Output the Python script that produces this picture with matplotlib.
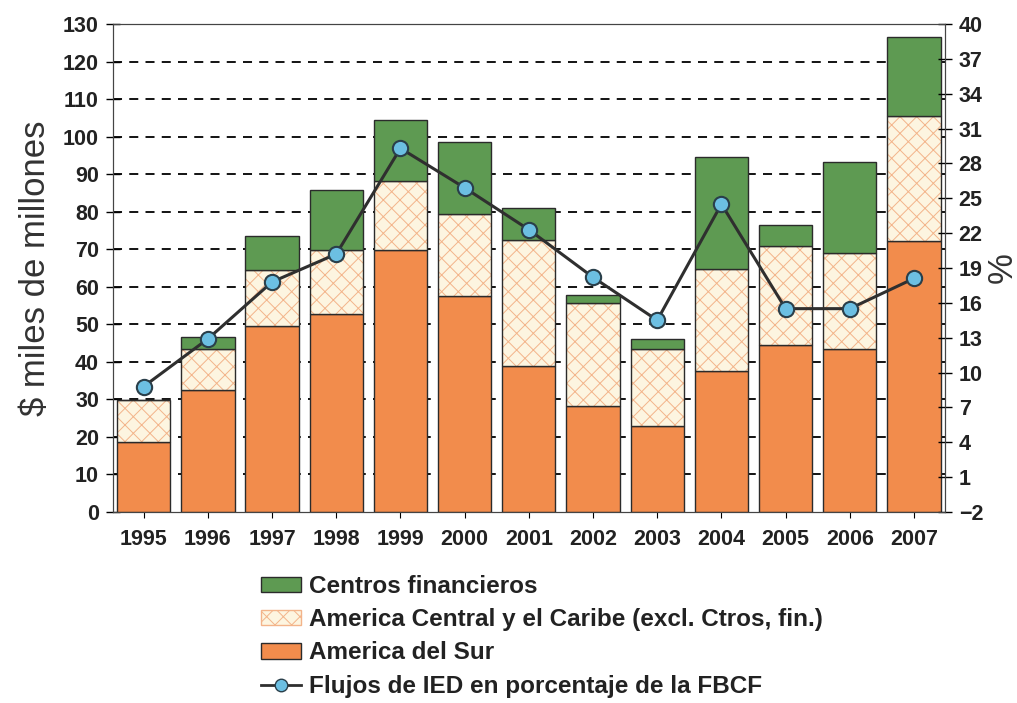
import numpy as np
import matplotlib.pyplot as plt
from matplotlib.lines import Line2D
from matplotlib.patches import Patch

plt.rcParams['font.family'] = ['Liberation Sans', 'DejaVu Sans']
plt.rcParams['hatch.linewidth'] = 0.7

years = ['1995', '1996', '1997', '1998', '1999', '2000', '2001',
         '2002', '2003', '2004', '2005', '2006', '2007']
sur = [18.6, 32.5, 49.5, 52.7, 69.8, 57.5, 38.9, 28.2, 22.9, 37.6, 44.5, 43.4, 72.2]
central = [11.2, 10.9, 15.0, 17.1, 18.4, 21.9, 33.6, 27.5, 20.5, 27.1, 26.4, 25.6, 33.3]
centros = [0.0, 3.2, 9.0, 16.0, 16.2, 19.2, 8.5, 2.1, 2.7, 29.9, 5.6, 24.2, 21.0]
pct = [8.8, 12.9, 17.8, 20.2, 29.3, 25.9, 22.3, 18.2, 14.5, 24.5, 15.5, 15.5, 18.1]

c_green = '#5e9a52'
c_cream = '#fdf5e0'
c_hatch = '#f3b48a'
c_orange = '#f28c4c'
c_edge = '#2b2b2b'

fig = plt.figure(figsize=(10.17, 7.03), dpi=100)
ax = fig.add_axes([0.111, 0.2717, 0.818, 0.6942])
ax2 = ax.twinx()

x = np.arange(len(years))
w = 0.83
sur = np.array(sur)
central = np.array(central)
centros = np.array(centros)

ax.bar(x, sur, w, color=c_orange, edgecolor=c_edge, linewidth=1.0, zorder=3)
ax.bar(x, central, w, bottom=sur, color=c_cream, edgecolor=c_hatch,
       hatch='xx', linewidth=0, zorder=3)
ax.bar(x, central, w, bottom=sur, color='none', edgecolor=c_edge, linewidth=1.0, zorder=3)
ax.bar(x, centros, w, bottom=sur + central, color=c_green, edgecolor=c_edge,
       linewidth=1.0, zorder=3)

ax.set_xlim(-0.48, len(years) - 0.52)
ax.set_ylim(0, 130)
ax.set_yticks(np.arange(0, 131, 10))
ax.set_xticks(x)
ax.set_xticklabels(years)
for yv in range(10, 130, 10):
    ax.axhline(yv, color='black', linestyle=(0, (5, 4)), linewidth=1.3, zorder=1)

ax2.plot(x, pct, color='#2f2f2f', linewidth=2.2, marker='o', markersize=11,
         markerfacecolor='#6cbfe2', markeredgecolor='#2a3f4a', markeredgewidth=1.5, zorder=5)
ax2.set_ylim(-2, 40)
ax2.set_yticks(np.arange(-2, 41, 3))

for a in (ax, ax2):
    a.tick_params(axis='y', direction='inout', length=10, width=1, labelsize=15.5, pad=5)
    for lbl in a.get_yticklabels():
        lbl.set_fontweight('bold')
        lbl.set_color('#222222')
    for s in a.spines.values():
        s.set_color('#444444')
ax.tick_params(axis='x', direction='inout', length=8, labelsize=15.5, pad=8)
for lbl in ax.get_xticklabels():
    lbl.set_fontweight('bold')
    lbl.set_color('#222222')

ax.set_ylabel('$ miles de millones', fontsize=25, color='#333333', labelpad=8)
ax2.set_ylabel('%', fontsize=25, color='#333333', rotation=90, labelpad=2)

handles = [
    Patch(facecolor=c_green, edgecolor=c_edge),
    Patch(facecolor=c_cream, edgecolor=c_hatch, hatch='xx'),
    Patch(facecolor=c_orange, edgecolor=c_edge),
    Line2D([0], [0], color='#2f2f2f', linewidth=2, marker='o', markersize=9,
           markerfacecolor='#6cbfe2', markeredgecolor='#2a3f4a'),
]
labels = ['Centros financieros',
          'America Central y el Caribe (excl. Ctros, fin.)',
          'America del Sur',
          'Flujos de IED en porcentaje de la FBCF']
leg = fig.legend(handles, labels, loc='upper left', bbox_to_anchor=(0.257, 0.182),
                 frameon=False, prop={'weight': 'bold', 'size': 17.5},
                 handlelength=1.65, handleheight=0.6, labelspacing=0.42,
                 handletextpad=0.3, borderaxespad=0, borderpad=0)
for t in leg.get_texts():
    t.set_color('#222222')

fig.savefig('out.png', dpi=100)
